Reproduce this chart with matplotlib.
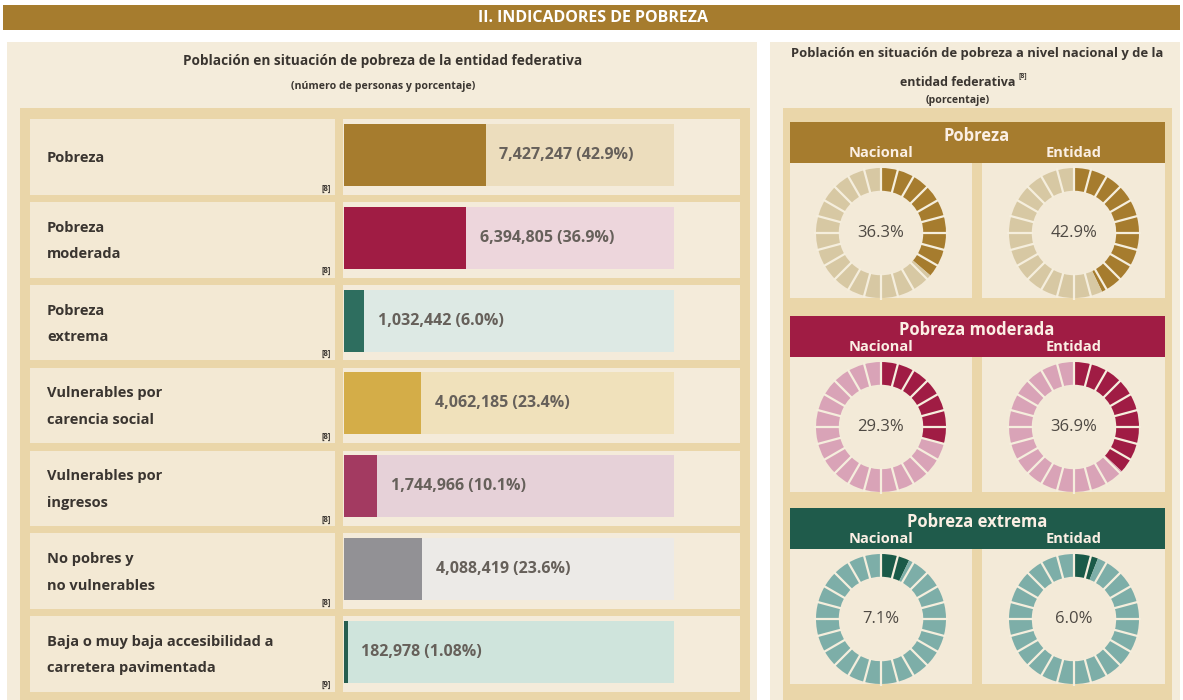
import numpy as np
import matplotlib.pyplot as plt
from matplotlib.patches import Rectangle
from matplotlib import transforms

plt.rcParams['font.family'] = ['Open Sans', 'DejaVu Sans']

# --- datos ---
categorias = ['Pobreza', 'Pobreza\nmoderada', 'Pobreza\nextrema',
              'Vulnerables por\ncarencia social', 'Vulnerables por\ningresos',
              'No pobres y\nno vulnerables',
              'Baja o muy baja accesibilidad a\ncarretera pavimentada']
personas = [7427247, 6394805, 1032442, 4062185, 1744966, 4088419, 182978]
porcentajes = [42.9, 36.9, 6.0, 23.4, 10.1, 23.6, 1.08]
fuentes = ['[8]', '[8]', '[8]', '[8]', '[8]', '[8]', '[9]']
colores_barra = ['#A67C2E', '#A01C44', '#2E6E5F', '#D4AD48', '#A33A61', '#929195', '#275E4F']
colores_pista = ['#ECDDBD', '#EDD6DC', '#DDE9E4', '#F0E1BB', '#E6D1D8', '#ECEAE7', '#CFE4DC']

indicadores = ['Pobreza', 'Pobreza moderada', 'Pobreza extrema']
nacional = [36.3, 29.3, 7.1]
entidad = [42.9, 36.9, 6.0]
color_lleno = ['#A67C2E', '#A01C44', '#1A5A48']
color_vacio = ['#D7C8A3', '#D9A3B7', '#7DAEA8']
color_cabecera = ['#A67C2E', '#A01C44', '#1F5B4B']

W, H = 1183, 700
fig = plt.figure(figsize=(W / 100, H / 100), dpi=100)
fig.patch.set_facecolor('white')

# fondo en pixeles
bg = fig.add_axes([0, 0, 1, 1])
bg.set_xlim(0, W)
bg.set_ylim(H, 0)
bg.axis('off')


def caja(x0, y0, x1, y1, color, ax=bg, transform=None):
    r = Rectangle((x0, y0), x1 - x0, y1 - y0, facecolor=color, lw=0)
    if transform is not None:
        r.set_transform(transform)
    ax.add_patch(r)


oscuro = '#3A3530'

# banda de titulo
caja(3, 5, 1180, 30, '#A67C2E')
bg.text(593, 17.5, 'II. INDICADORES DE POBREZA', color='white', fontsize=11.5,
        fontweight='bold', ha='center', va='center')

# panel izquierdo
caja(7, 42, 757, 700, '#F4ECDB')
caja(20, 108, 750, 700, '#EAD6A9')
bg.text(383, 61, 'Población en situación de pobreza de la entidad federativa',
        fontsize=9.8, fontweight='bold', color=oscuro, ha='center', va='center')
bg.text(383, 87, '(número de personas y porcentaje)', fontsize=7.6, fontweight='bold',
        color=oscuro, ha='center', va='center')

# panel derecho
caja(770, 42, 1180, 700, '#F4ECDB')
caja(783, 108, 1172, 700, '#EAD6A9')
bg.text(977, 53, 'Población en situación de pobreza a nivel nacional y de la',
        fontsize=9.4, fontweight='bold', color=oscuro, ha='center', va='center')
bg.text(958, 83, 'entidad federativa', fontsize=9, fontweight='bold', color=oscuro,
        ha='center', va='center')
bg.text(1019, 76, '[8]', fontsize=5, fontweight='bold', color=oscuro, ha='left', va='center')
bg.text(958, 100, '(porcentaje)', fontsize=7.6, fontweight='bold', color=oscuro,
        ha='center', va='center')

# --- barras ---
y0_px, paso = 155, 82.8
n = len(categorias)
top = y0_px - paso / 2
bot = y0_px + paso * (n - 0.5)
ax = fig.add_axes([344 / W, 1 - bot / H, 330 / W, (bot - top) / H])
ax.set_xlim(0, 100)
ax.set_ylim(n - 0.5, -0.5)
ax.axis('off')
ax.patch.set_alpha(0)

filas = np.arange(n)
mezcla = transforms.blended_transform_factory(bg.transData, ax.transData)
for i in filas:
    caja(30, i - 0.43, 335, i + 0.48, '#F3E9D4', transform=mezcla)
    caja(343, i - 0.43, 740, i + 0.48, '#F4EBDA', transform=mezcla)
    bg.text(47, i + 0.04, categorias[i], transform=mezcla, fontsize=10.5, fontweight='bold',
            color=oscuro, va='center', ha='left', linespacing=2.15)
    bg.text(326, i + 0.4, fuentes[i], transform=mezcla, fontsize=5.5, fontweight='bold',
            color=oscuro, va='center', ha='center')

ax.barh(filas, 100, height=0.75, color=colores_pista, zorder=1)
ax.barh(filas, porcentajes, height=0.75, color=colores_barra, zorder=2)
for i in filas:
    dec = 2 if porcentajes[i] < 2 else 1
    ax.annotate(f'{personas[i]:,} ({porcentajes[i]:.{dec}f}%)', (porcentajes[i], i),
                xytext=(10, 0), textcoords='offset points', va='center', ha='left',
                fontsize=11.5, fontweight='bold', color='#66605A', zorder=3)

# --- donas ---
cabecera_y = [122, 316, 508]
centros_x = [881, 1074]
r_px = 65
for j, nombre in enumerate(indicadores):
    y = cabecera_y[j]
    caja(790, y, 1165, y + 41, color_cabecera[j])
    bg.text(977, y + 14, nombre, fontsize=12, fontweight='bold', color='#FBEFE4',
            ha='center', va='center')
    for cx, etiqueta in zip(centros_x, ['Nacional', 'Entidad']):
        bg.text(cx, y + 31, etiqueta, fontsize=10.5, fontweight='bold', color='#FBEFE4',
                ha='center', va='center')
    caja(790, y + 41, 972, y + 176, '#F3EAD8')
    caja(982, y + 41, 1165, y + 176, '#F3EAD8')

    cy = y + 111
    for cx, valor in zip(centros_x, [nacional[j], entidad[j]]):
        lado = 150
        dax = fig.add_axes([(cx - lado / 2) / W, 1 - (cy + lado / 2) / H, lado / W, lado / H])
        lim = lado / 2 / r_px
        dax.pie([valor, 100 - valor], colors=[color_lleno[j], color_vacio[j]],
                startangle=90, counterclock=False, radius=1,
                wedgeprops=dict(width=0.35, linewidth=0))
        for k in range(24):
            a = np.deg2rad(90 - 15 * k)
            dax.plot([0.63 * np.cos(a), 1.03 * np.cos(a)], [0.63 * np.sin(a), 1.03 * np.sin(a)],
                     color='#F5EEDD', lw=1.6, solid_capstyle='butt')
        dax.text(0, 0, f'{valor:.1f}%', fontsize=12, color='#4E4943', ha='center', va='center')
        dax.set_xlim(-lim, lim)
        dax.set_ylim(-lim, lim)
        dax.set_aspect('equal')
        dax.axis('off')

fig.savefig('out.png', dpi=100)
